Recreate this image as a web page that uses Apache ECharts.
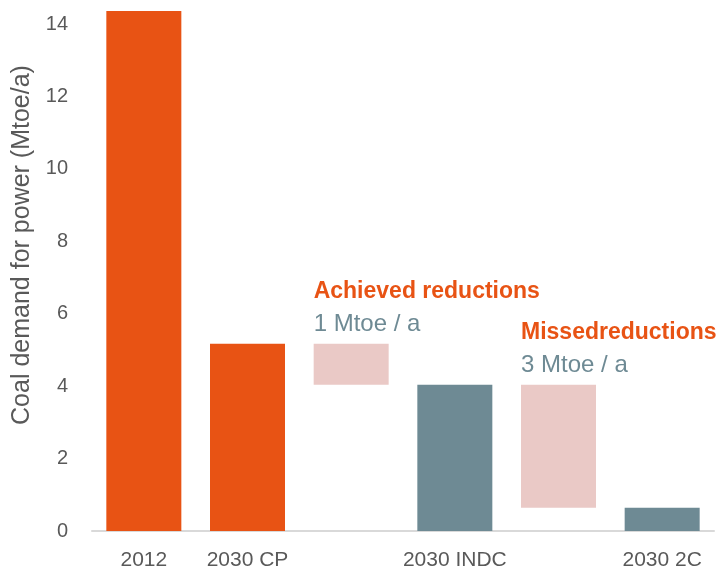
<!DOCTYPE html>
<html><head><meta charset="utf-8">
<script src="https://cdn.jsdelivr.net/npm/echarts@6/dist/echarts.min.js"></script>
<style>html,body{margin:0;padding:0;background:#fff}#c{width:718px;height:575px}</style>
</head><body><div id="c"></div>
<script>
const categories = ['2012', '2030 CP', '', '2030 INDC', '', '2030 2C'];
const currentPolicyDemand = [14.36, 5.17, null, null, null, null];
const scenarioDemand = [null, null, null, 4.04, null, 0.64];
const reductionLow = [null, null, 4.04, null, 0.64, null];
const reductionHigh = [null, null, 5.17, null, 4.04, null];
const annotationTitles = [null, null, 'Achieved reductions', null, 'Missedreductions', null];
const annotationValues = [null, null, '1 Mtoe / a', null, '3 Mtoe / a', null];
const yTicks = [0, 2, 4, 6, 8, 10, 12, 14];

const FONT = 'Liberation Sans';
const reductionSpan = reductionHigh.map((h, i) => (h == null ? null : +(h - reductionLow[i]).toFixed(2)));

const chart = echarts.init(document.getElementById('c'), null, {renderer: 'canvas'});
chart.setOption({
  animation: false,
  grid: {left: 92, right: 4, top: 11, bottom: 44, containLabel: false},
  xAxis: {
    type: 'category', data: categories,
    axisLine: {lineStyle: {color: '#D9D9D9', width: 2}},
    axisTick: {show: false},
    axisLabel: {color: '#595959', fontFamily: FONT, fontSize: 21, margin: 19, interval: 0}
  },
  yAxis: {
    type: 'value', min: 0, max: 14.36, interval: 2,
    name: 'Coal demand for power (Mtoe/a)', nameLocation: 'middle', nameGap: 50,
    nameTextStyle: {color: '#595959', fontFamily: FONT, fontSize: 25, padding: [0, 0, 0, 52]},
    axisLine: {show: false}, axisTick: {show: false}, splitLine: {show: false},
    axisLabel: {color: '#595959', fontFamily: FONT, fontSize: 20, margin: 24, showMaxLabel: false,
      formatter: v => (yTicks.includes(v) ? String(v) : '')}
  },
  series: [
    {type: 'bar', stack: 's', barWidth: 75, data: currentPolicyDemand, itemStyle: {color: '#E85314'}},
    {type: 'bar', stack: 's', barWidth: 75, data: scenarioDemand, itemStyle: {color: '#6E8A94'}},
    {type: 'bar', stack: 's', barWidth: 75, data: reductionLow, itemStyle: {color: 'rgba(0,0,0,0)'}},
    {type: 'bar', stack: 's', barWidth: 75, data: reductionSpan, itemStyle: {color: '#EAC9C6'},
      label: {show: true, position: [0, -2], align: 'left', verticalAlign: 'bottom',
        formatter: p => `{t|${annotationTitles[p.dataIndex]}}\n{v|${annotationValues[p.dataIndex]}}`,
        rich: {
          t: {color: '#E85314', fontWeight: 'bold', fontFamily: FONT, fontSize: 23, lineHeight: 32},
          v: {color: '#6E8A94', fontFamily: FONT, fontSize: 24, lineHeight: 34}
        }}}
  ]
});
</script></body></html>
